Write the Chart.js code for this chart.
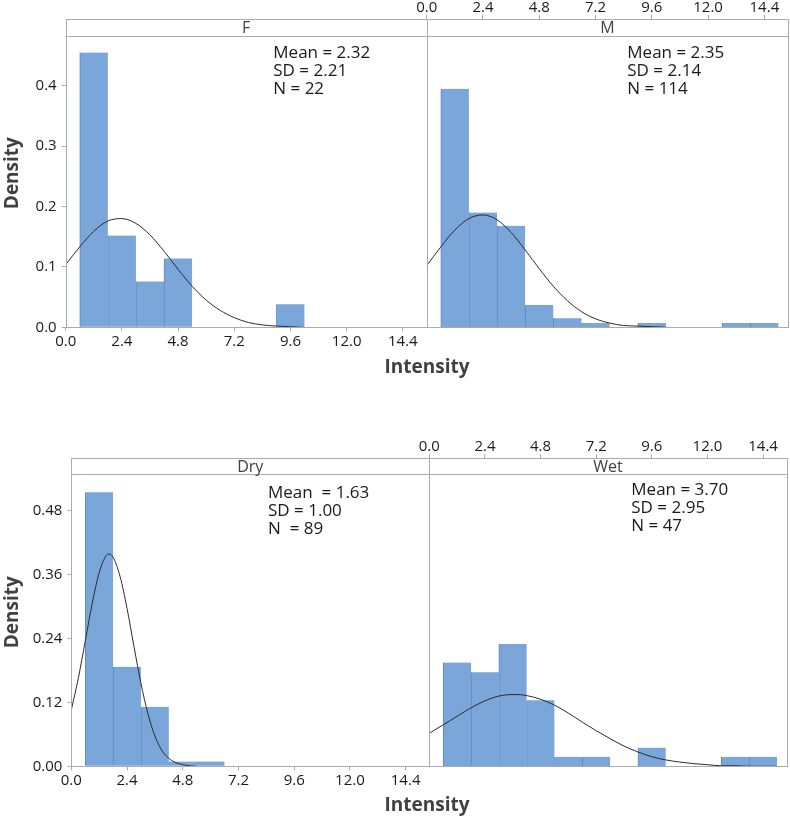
<!DOCTYPE html>
<html>
<head>
<meta charset="utf-8">
<title>Intensity histograms</title>
<script src="https://cdn.jsdelivr.net/npm/chart.js@4.4.1/dist/chart.umd.min.js"></script>
<style>
  body { margin: 0; background: #fff; }
  #wrap { position: relative; width: 790px; height: 818px; }
  #wrap canvas { position: absolute; left: 0; top: 0; }
</style>
</head>
<body>
<div id="wrap">
  <canvas id="chartF" width="790" height="818"></canvas>
  <canvas id="chartM" width="790" height="818"></canvas>
  <canvas id="chartDry" width="790" height="818"></canvas>
  <canvas id="chartWet" width="790" height="818"></canvas>
</div>
<script>
// histogram bins (width 1.2, from 0.6 to 15.0), centres
let binCenters = [1.2, 2.4, 3.6, 4.8, 6.0, 7.2, 8.4, 9.6, 10.8, 12.0, 13.2, 14.4];
let xTicks = [0, 2.4, 4.8, 7.2, 9.6, 12.0, 14.4];
let yTicksTop = [0, 0.1, 0.2, 0.3, 0.4];
let yTicksBottom = [0, 0.12, 0.24, 0.36, 0.48];

// density per bin
let densF = [0.455, 0.152, 0.076, 0.114, 0, 0, 0, 0.038, 0, 0, 0, 0];
let densM = [0.395, 0.190, 0.168, 0.037, 0.015, 0.007, 0, 0.007, 0, 0, 0.007, 0.007];
let densDry = [0.515, 0.187, 0.112, 0.009, 0.009, 0, 0, 0, 0, 0, 0, 0];
let densWet = [0.195, 0.177, 0.230, 0.124, 0.018, 0.018, 0, 0.035, 0, 0, 0.018, 0.018];

// fitted normal curves
let curveX = [0, 0.6, 1.2, 1.8, 2.4, 3.0, 3.6, 4.2, 4.8, 5.4, 6.0, 6.6, 7.2, 7.8, 8.4, 9.0, 9.6, 10.2];
let fitF = [0.104, 0.133, 0.159, 0.176, 0.180, 0.172, 0.153, 0.126, 0.096, 0.068, 0.045, 0.028, 0.016, 0.008, 0.004, 0.002, 0.001, 0.000];
let fitM = [0.102, 0.133, 0.161, 0.180, 0.186, 0.178, 0.157, 0.128, 0.097, 0.068, 0.044, 0.026, 0.014, 0.007, 0.003, 0.002, 0.001, 0.000];
let curveXDry = [0, 0.3, 0.6, 0.9, 1.2, 1.5, 1.63, 1.8, 2.1, 2.4, 2.7, 3.0, 3.3, 3.6, 3.9, 4.2, 4.5, 4.8, 5.1, 5.4];
let fitDry = [0.106, 0.165, 0.235, 0.306, 0.364, 0.396, 0.399, 0.393, 0.357, 0.297, 0.225, 0.156, 0.099, 0.057, 0.030, 0.015, 0.007, 0.003, 0.001, 0.000];
let curveXWet = [0, 0.6, 1.2, 1.8, 2.4, 3.0, 3.7, 4.2, 4.8, 5.4, 6.0, 6.6, 7.2, 7.8, 8.4, 9.0, 9.6, 10.2, 10.8, 11.4, 12.0, 12.6, 13.2, 13.8, 14.4, 15.0];
let fitWet = [0.062, 0.078, 0.094, 0.110, 0.123, 0.132, 0.135, 0.133, 0.126, 0.115, 0.100, 0.083, 0.067, 0.052, 0.038, 0.027, 0.018, 0.012, 0.008, 0.005, 0.003, 0.001, 0.001, 0.000, 0.000, 0.000];

let statsF = ['Mean = 2.32', 'SD = 2.21', 'N = 22'];
let statsM = ['Mean = 2.35', 'SD = 2.14', 'N = 114'];
let statsDry = ['Mean  = 1.63', 'SD = 1.00', 'N  = 89'];
let statsWet = ['Mean = 3.70', 'SD = 2.95', 'N = 47'];

Chart.defaults.font.family = "'Open Sans', 'Noto Sans', sans-serif";
Chart.defaults.color = '#1a1a1a';

const lineGray = '#ababab';
const barFill = '#7ba6da';
const barEdge = '#5f89c3';

// draws panel box, strip label, stats text and the shared x title
const panelPlugin = {
    id: 'panel',
    afterDraw(chart, args, opts) {
        const ctx = chart.ctx;
        const a = chart.chartArea;
        const px = v => Math.round(v) + 0.5;
        ctx.save();
        ctx.fillStyle = '#fff';
        ctx.fillRect(a.left, a.top, a.right - a.left, opts.stripH);
        ctx.strokeStyle = lineGray;
        ctx.lineWidth = 1;
        ctx.strokeRect(px(a.left), px(a.top), Math.round(a.right) - Math.round(a.left), Math.round(a.bottom) - Math.round(a.top));
        ctx.beginPath();
        ctx.moveTo(a.left, px(a.top + opts.stripH));
        ctx.lineTo(a.right, px(a.top + opts.stripH));
        ctx.stroke();

        ctx.fillStyle = '#404040';
        ctx.font = "16px 'Open Sans'";
        ctx.textAlign = 'center';
        ctx.textBaseline = 'middle';
        ctx.fillText(opts.strip, (a.left + a.right) / 2, a.top + opts.stripH / 2 + 1);

        ctx.fillStyle = '#1a1a1a';
        ctx.font = "17px 'Open Sans'";
        ctx.textAlign = 'left';
        opts.stats.forEach(function(s, i) {
            ctx.fillText(s, opts.statsX, opts.statsY + i * 18);
        });

        if (opts.xTitle) {
            ctx.fillStyle = '#404040';
            ctx.font = "bold 19px 'Open Sans'";
            ctx.textAlign = 'center';
            ctx.textBaseline = 'alphabetic';
            ctx.fillText(opts.xTitle, opts.xTitleX, opts.xTitleY);
        }
        ctx.restore();
    }
};

function makePanel(id, p) {
    return new Chart(document.getElementById(id), {
        type: 'bar',
        data: {
            datasets: [{
                type: 'line',
                data: p.curveX.map(function(x, i) { return {x: x, y: p.curveY[i]}; }),
                borderColor: '#2b2b2b',
                borderWidth: 1,
                pointRadius: 0,
                cubicInterpolationMode: 'monotone',
                order: 0
            }, {
                data: binCenters.map(function(x, i) { return {x: x, y: p.dens[i]}; }),
                backgroundColor: barFill,
                borderColor: barEdge,
                borderWidth: {top: 0, right: 0, bottom: 0, left: 1},
                barPercentage: 1,
                categoryPercentage: 1,
                order: 1
            }]
        },
        options: {
            responsive: false,
            animation: false,
            events: [],
            layout: { padding: p.pad },
            plugins: {
                legend: { display: false },
                tooltip: { enabled: false },
                panel: p.panel
            },
            scales: {
                x: {
                    type: 'linear',
                    position: p.xPos,
                    min: 0,
                    max: 15.42,
                    offset: false,
                    afterBuildTicks: function(s) { s.ticks = xTicks.map(function(v) { return {value: v}; }); },
                    afterFit: function(s) { s.height = p.xAxisH; },
                    grid: { display: true, drawOnChartArea: false, offset: false, tickLength: 4, tickColor: lineGray },
                    border: { display: false },
                    ticks: {
                        autoSkip: false,
                        maxRotation: 0,
                        padding: p.xPos === 'top' ? 0 : 3,
                        font: { size: 15, lineHeight: 1 },
                        callback: function(v) { return v.toFixed(1); }
                    }
                },
                y: {
                    display: p.showY,
                    min: 0,
                    max: p.yMax,
                    afterBuildTicks: function(s) { s.ticks = p.yTicks.map(function(v) { return {value: v}; }); },
                    afterFit: function(s) { s.width = p.yAxisW; },
                    grid: { display: true, drawOnChartArea: false, tickLength: 4, tickColor: lineGray },
                    border: { display: false },
                    ticks: {
                        padding: 5,
                        font: { size: 15, lineHeight: 1 },
                        callback: function(v) { return v.toFixed(p.yDec); }
                    },
                    title: {
                        display: true,
                        text: 'Density',
                        color: '#404040',
                        font: { size: 19, weight: 'bold' },
                        padding: { top: 1, bottom: 0 }
                    }
                }
            }
        },
        plugins: [panelPlugin]
    });
}

makePanel('chartF', {
    dens: densF, curveX: curveX, curveY: fitF,
    pad: {left: 0, top: 19, right: 363.3, bottom: 460.7},
    xPos: 'bottom', xAxisH: 30, showY: true, yAxisW: 65.7,
    yMax: 0.5104, yTicks: yTicksTop, yDec: 1,
    panel: {strip: 'F', stripH: 17, stats: statsF, statsX: 273.3, statsY: 53.3,
            xTitle: 'Intensity', xTitleX: 427, xTitleY: 372.5}
});

makePanel('chartM', {
    dens: densM, curveX: curveX, curveY: fitM,
    pad: {left: 426.7, top: 0, right: 1.7, bottom: 490.7},
    xPos: 'top', xAxisH: 19, showY: false, yAxisW: 0,
    yMax: 0.5104, yTicks: yTicksTop, yDec: 1,
    panel: {strip: 'M', stripH: 17, stats: statsM, statsX: 627.3, statsY: 53.3}
});

makePanel('chartDry', {
    dens: densDry, curveX: curveXDry, curveY: fitDry,
    pad: {left: 0, top: 458.3, right: 360.7, bottom: 21.7},
    xPos: 'bottom', xAxisH: 30, showY: true, yAxisW: 71.3,
    yMax: 0.579, yTicks: yTicksBottom, yDec: 2,
    panel: {strip: 'Dry', stripH: 16, stats: statsDry, statsX: 268, statsY: 492.7,
            xTitle: 'Intensity', xTitleX: 427, xTitleY: 811}
});

makePanel('chartWet', {
    dens: densWet, curveX: curveXWet, curveY: fitWet,
    pad: {left: 429.3, top: 428.3, right: 3.3, bottom: 51.7},
    xPos: 'top', xAxisH: 30, showY: false, yAxisW: 0,
    yMax: 0.579, yTicks: yTicksBottom, yDec: 2,
    panel: {strip: 'Wet', stripH: 16, stats: statsWet, statsX: 631.3, statsY: 490}
});
</script>
</body>
</html>
